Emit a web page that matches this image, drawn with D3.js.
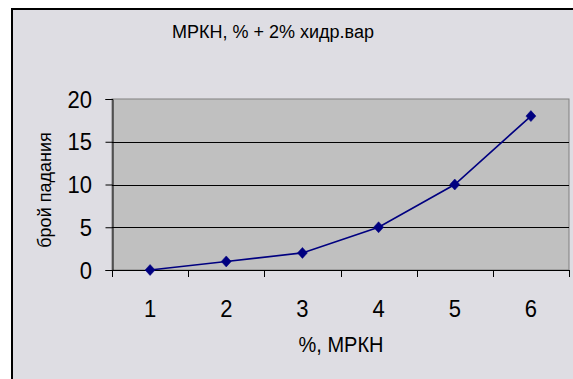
<!DOCTYPE html>
<html>
<head>
<meta charset="utf-8">
<script src="https://cdn.jsdelivr.net/npm/d3@7"></script>
<style>
  html, body { margin: 0; padding: 0; background: #ffffff; }
  svg { display: block; }
  text { font-family: "Liberation Sans", Arial, sans-serif; fill: #000; }
</style>
</head>
<body>
<svg id="chart" width="573" height="379"></svg>
<script>
// Chart data
const categories = ["1", "2", "3", "4", "5", "6"];
const values = [0, 1, 2, 5, 10, 18];
const yTicks = [0, 5, 10, 15, 20];
const titleText = "МРКН, % + 2% хидр.вар";
const xTitleText = "%, МРКН";
const yTitleText = "брой падания";

const svg = d3.select("#chart");
const stretch = 1.1; // slightly tall lettering for axis labels

// Chart frame
svg.append("rect")
  .attr("x", 12).attr("y", 9)
  .attr("width", 600).attr("height", 400)
  .attr("fill", "#dedde3")
  .attr("stroke", "#000").attr("stroke-width", 2);

const plot = { left: 112, top: 99, right: 569, bottom: 270 };

const x = d3.scaleBand()
  .domain(categories)
  .range([plot.left, plot.right])
  .paddingInner(0).paddingOuter(0);

const y = d3.scaleLinear()
  .domain([0, 20])
  .range([plot.bottom, plot.top]);

// Plot area
svg.append("rect")
  .attr("x", plot.left).attr("y", plot.top)
  .attr("width", plot.right - plot.left)
  .attr("height", plot.bottom - plot.top)
  .attr("fill", "#c0c0c0")
  .attr("stroke", "#808080").attr("stroke-width", 1);

// Horizontal gridlines
svg.append("g")
  .selectAll("line")
  .data(yTicks.filter(d => d > 0 && d < 20))
  .join("line")
  .attr("x1", plot.left).attr("x2", plot.right)
  .attr("y1", d => Math.round(y(d)) + 0.5)
  .attr("y2", d => Math.round(y(d)) + 0.5)
  .attr("stroke", "#000").attr("stroke-width", 1);

// Y axis: ticks from d3, labels placed with a vertical stretch
const yAxis = d3.axisLeft(y)
  .tickValues(yTicks)
  .tickSize(7)
  .tickFormat("");
const gy = svg.append("g")
  .attr("transform", `translate(${plot.left + 0.5},0)`)
  .call(yAxis);
gy.select(".domain").attr("stroke", "#000");
gy.selectAll(".tick line").attr("stroke", "#000");

svg.append("g")
  .selectAll("text")
  .data(yTicks)
  .join("text")
  .attr("transform", d => `translate(${plot.left - 20},${y(d) + 8.5}) scale(1,${stretch})`)
  .attr("text-anchor", "end")
  .attr("font-size", 22)
  .text(d => d3.format("d")(d));

// X axis with ticks between categories
const xAxisLine = svg.append("g");
xAxisLine.append("line")
  .attr("x1", plot.left).attr("x2", plot.right)
  .attr("y1", plot.bottom + 0.5).attr("y2", plot.bottom + 0.5)
  .attr("stroke", "#000");
const boundaries = categories.map(c => x(c)).concat([x(categories[categories.length - 1]) + x.bandwidth()]);
xAxisLine.selectAll("line.tk")
  .data(boundaries)
  .join("line")
  .attr("class", "tk")
  .attr("x1", d => Math.round(d) + 0.5).attr("x2", d => Math.round(d) + 0.5)
  .attr("y1", plot.bottom).attr("y2", plot.bottom + 7)
  .attr("stroke", "#000");
xAxisLine.selectAll("text")
  .data(categories)
  .join("text")
  .attr("transform", d => `translate(${x(d) + x.bandwidth() / 2},317) scale(1,${stretch})`)
  .attr("text-anchor", "middle")
  .attr("font-size", 22)
  .text(d => d);

// Series line and markers
const line = d3.line()
  .x((d, i) => x(categories[i]) + x.bandwidth() / 2)
  .y(d => y(d));
svg.append("path")
  .datum(values)
  .attr("d", line)
  .attr("fill", "none")
  .attr("stroke", "#000080")
  .attr("stroke-width", 1.6);

svg.append("g")
  .selectAll("path")
  .data(values)
  .join("path")
  .attr("transform", (d, i) => `translate(${x(categories[i]) + x.bandwidth() / 2},${y(d)})`)
  .attr("d", "M0,-5.5L5,0L0,5.5L-5,0Z")
  .attr("fill", "#000080")
  .attr("stroke", "#000080")
  .attr("stroke-width", 0.5);

// Titles
svg.append("text")
  .attr("x", 273).attr("y", 37.5)
  .attr("text-anchor", "middle")
  .attr("font-size", 18)
  .text(titleText);

svg.append("text")
  .attr("transform", `translate(341,352) scale(1,${stretch})`)
  .attr("text-anchor", "middle")
  .attr("font-size", 20)
  .text(xTitleText);

svg.append("text")
  .attr("transform", "translate(51,190) rotate(-90)")
  .attr("text-anchor", "middle")
  .attr("font-size", 18)
  .text(yTitleText);
</script>
</body>
</html>
